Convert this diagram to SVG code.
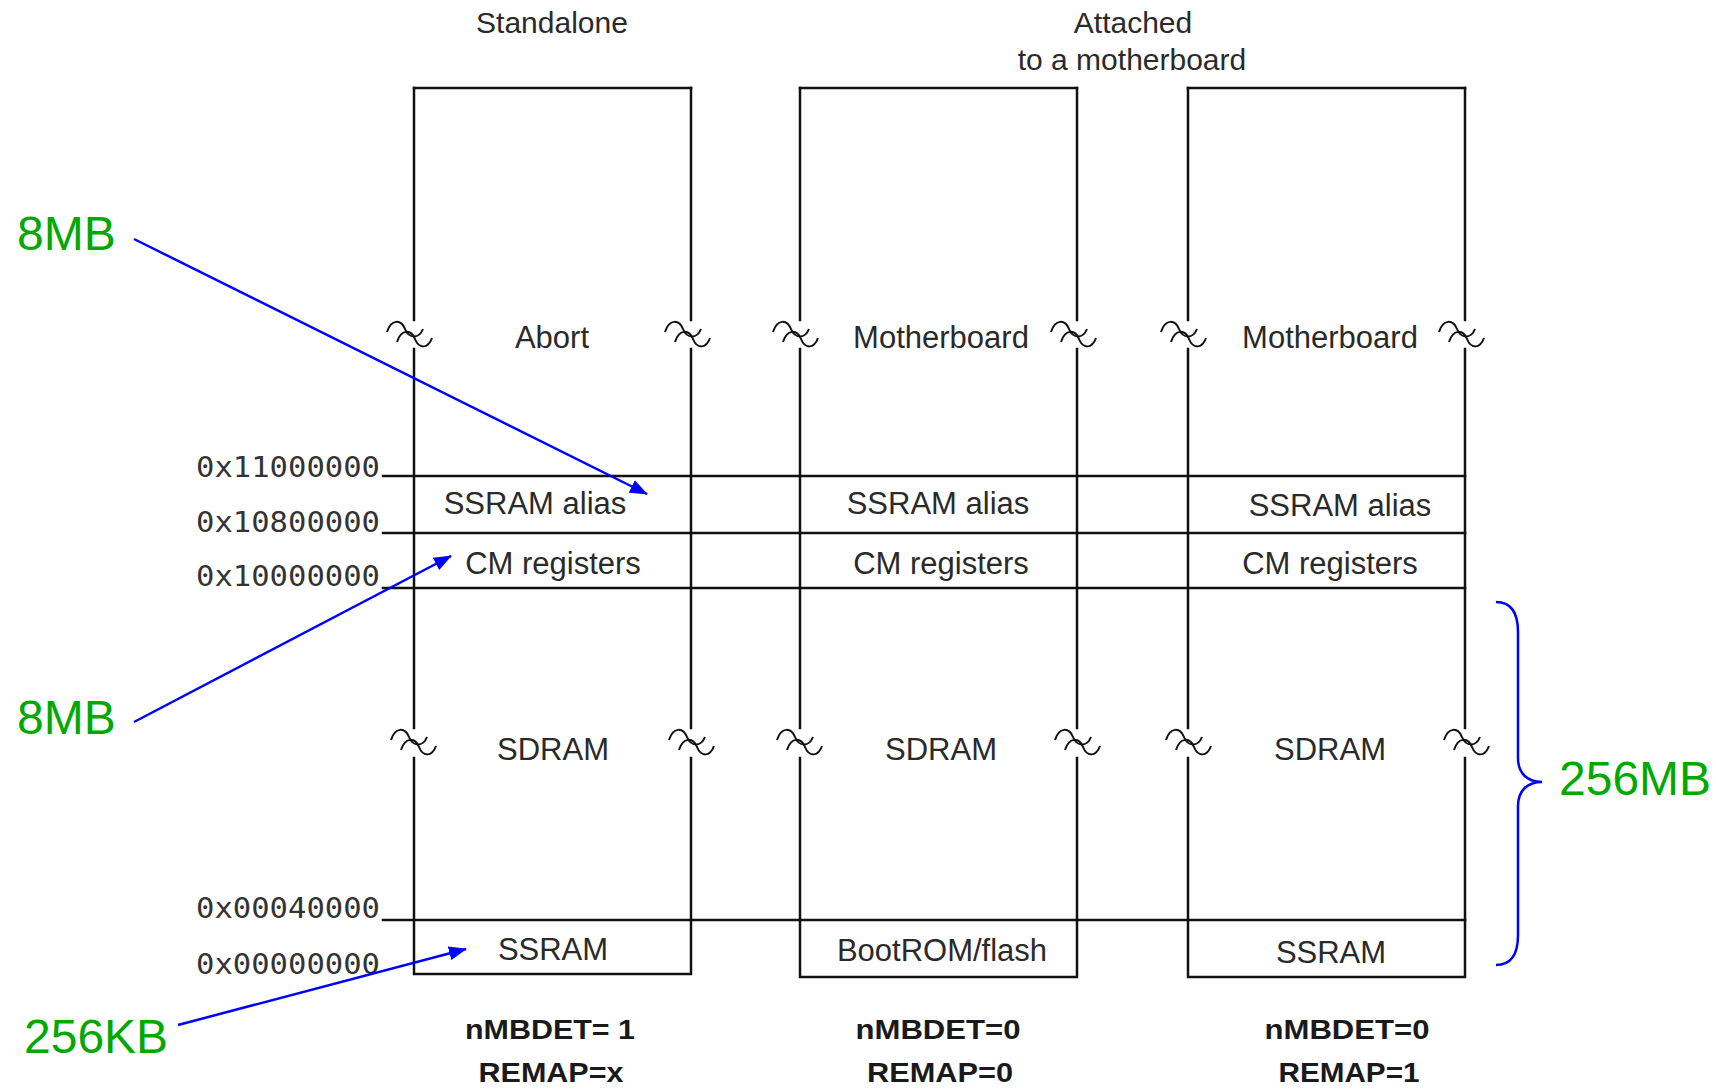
<svg xmlns="http://www.w3.org/2000/svg" width="1716" height="1091" viewBox="0 0 1716 1091">
<style>
.ln{stroke:#111;stroke-width:2.5;fill:none;stroke-linecap:square}
.brk{stroke:#111;stroke-width:2;fill:none}
.lbl{font-family:"Liberation Sans",Arial,sans-serif;font-size:31px;fill:#2a2a2a;text-anchor:middle}
.hdr{font-family:"Liberation Sans",Arial,sans-serif;font-size:30px;fill:#2a2a2a;text-anchor:middle}
.bold{font-family:"Liberation Sans",Arial,sans-serif;font-size:28px;font-weight:bold;fill:#1a1a1a;text-anchor:middle}
.addr{font-family:"DejaVu Sans Mono","Liberation Mono",monospace;font-size:29px;fill:#333}
.ann{font-family:"Liberation Sans",Arial,sans-serif;font-size:48px;fill:#00a800}
.blue{stroke:#0000ff;stroke-width:2.5;fill:none}
</style>
<defs>
<marker id="ah" viewBox="0 0 18 14" refX="17" refY="7" markerWidth="18" markerHeight="14" markerUnits="userSpaceOnUse" orient="auto">
<path d="M0,0 L18,7 L0,14 z" fill="#0000ff"/>
</marker>
<g id="brkSym">
<path class="brk" d="M-24,-3 C-20,-16 -10,-16 -6,-6 C-2,4 8,4 12,-6"/>
<path class="brk" d="M-14,7 C-10,-6 0,-6 4,4 C8,14 17,14 21,3"/>
</g>
</defs>
<rect width="1716" height="1091" fill="#ffffff"/>

<!-- headers -->
<g id="headers">
<text class="hdr" x="552" y="33">Standalone</text>
<text class="hdr" x="1133" y="33">Attached</text>
<text class="hdr" x="1132" y="70">to a motherboard</text>
</g>

<!-- address labels and shared horizontal lines -->
<g id="addresses">
<text class="addr" x="196" y="477" textLength="184" lengthAdjust="spacingAndGlyphs">0x11000000</text>
<text class="addr" x="196" y="532" textLength="184" lengthAdjust="spacingAndGlyphs">0x10800000</text>
<text class="addr" x="196" y="586" textLength="184" lengthAdjust="spacingAndGlyphs">0x10000000</text>
<text class="addr" x="196" y="918" textLength="184" lengthAdjust="spacingAndGlyphs">0x00040000</text>
<text class="addr" x="196" y="974" textLength="184" lengthAdjust="spacingAndGlyphs">0x00000000</text>
<line class="ln" x1="383" y1="476" x2="1465" y2="476"/>
<line class="ln" x1="383" y1="533" x2="1465" y2="533"/>
<line class="ln" x1="383" y1="588" x2="1465" y2="588"/>
<line class="ln" x1="383" y1="920" x2="1465" y2="920"/>
</g>

<!-- column 1: standalone -->
<g id="col-standalone">
<line class="ln" x1="414" y1="88" x2="691" y2="88"/>
<path class="ln" d="M414,88 V320 M414,349 V728 M414,758 V974 H691 V758 M691,728 V349 M691,320 V88"/>
<use href="#brkSym" x="411" y="335"/>
<use href="#brkSym" x="689" y="335"/>
<use href="#brkSym" x="415" y="743"/>
<use href="#brkSym" x="693" y="743"/>
<text class="lbl" x="552" y="348">Abort</text>
<text class="lbl" x="535" y="514">SSRAM alias</text>
<text class="lbl" x="553" y="574">CM registers</text>
<text class="lbl" x="553" y="760">SDRAM</text>
<text class="lbl" x="553" y="960">SSRAM</text>
<text class="bold" x="550" y="1039" textLength="170" lengthAdjust="spacingAndGlyphs">nMBDET= 1</text>
<text class="bold" x="551" y="1082" textLength="145" lengthAdjust="spacingAndGlyphs">REMAP=x</text>
</g>

<!-- column 2: attached, REMAP=0 -->
<g id="col-remap0">
<line class="ln" x1="800" y1="88" x2="1077" y2="88"/>
<path class="ln" d="M800,88 V320 M800,349 V728 M800,758 V977 H1077 V758 M1077,728 V349 M1077,320 V88"/>
<use href="#brkSym" x="797" y="335"/>
<use href="#brkSym" x="1075" y="335"/>
<use href="#brkSym" x="801" y="743"/>
<use href="#brkSym" x="1079" y="743"/>
<text class="lbl" x="941" y="348">Motherboard</text>
<text class="lbl" x="938" y="514">SSRAM alias</text>
<text class="lbl" x="941" y="574">CM registers</text>
<text class="lbl" x="941" y="760">SDRAM</text>
<text class="lbl" x="942" y="961">BootROM/flash</text>
<text class="bold" x="938" y="1039" textLength="165" lengthAdjust="spacingAndGlyphs">nMBDET=0</text>
<text class="bold" x="940" y="1082" textLength="146" lengthAdjust="spacingAndGlyphs">REMAP=0</text>
</g>

<!-- column 3: attached, REMAP=1 -->
<g id="col-remap1">
<line class="ln" x1="1188" y1="88" x2="1465" y2="88"/>
<path class="ln" d="M1188,88 V320 M1188,349 V728 M1188,758 V977 H1465 V758 M1465,728 V349 M1465,320 V88"/>
<use href="#brkSym" x="1185" y="335"/>
<use href="#brkSym" x="1463" y="335"/>
<use href="#brkSym" x="1190" y="743"/>
<use href="#brkSym" x="1468" y="743"/>
<text class="lbl" x="1330" y="348">Motherboard</text>
<text class="lbl" x="1340" y="516">SSRAM alias</text>
<text class="lbl" x="1330" y="574">CM registers</text>
<text class="lbl" x="1330" y="760">SDRAM</text>
<text class="lbl" x="1331" y="963">SSRAM</text>
<text class="bold" x="1347" y="1039" textLength="165" lengthAdjust="spacingAndGlyphs">nMBDET=0</text>
<text class="bold" x="1349" y="1082" textLength="141" lengthAdjust="spacingAndGlyphs">REMAP=1</text>
</g>

<!-- annotations -->
<g id="annotations">
<text class="ann" x="17" y="250">8MB</text>
<text class="ann" x="17" y="734">8MB</text>
<text class="ann" x="24" y="1053">256KB</text>
<text class="ann" x="1559" y="795">256MB</text>
</g>

<!-- connectors -->
<g id="connectors">
<line class="blue" x1="134" y1="239" x2="647" y2="494" marker-end="url(#ah)"/>
<line class="blue" x1="134" y1="722" x2="451" y2="556" marker-end="url(#ah)"/>
<line class="blue" x1="178" y1="1025" x2="466" y2="949" marker-end="url(#ah)"/>
<path class="blue" d="M1496,602 C1512,602 1518,614 1518,632 L1518,758 C1518,774 1528,782 1542,782 C1528,782 1518,790 1518,806 L1518,935 C1518,953 1512,965 1496,965"/>
</g>
</svg>
